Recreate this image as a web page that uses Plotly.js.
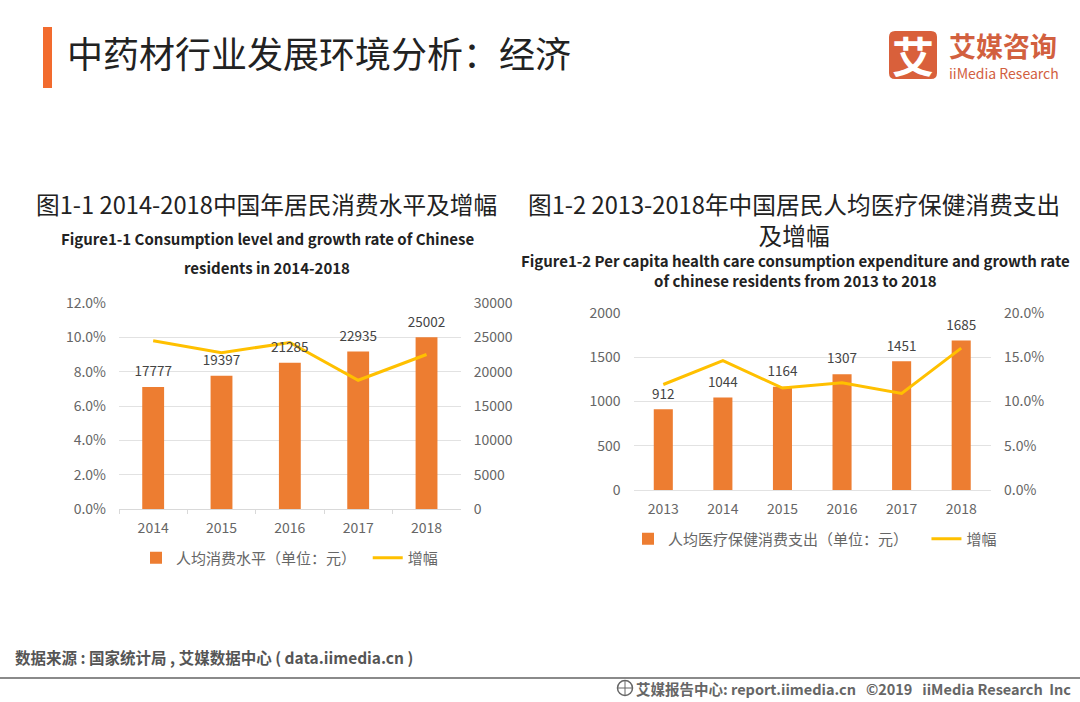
<!DOCTYPE html>
<html>
<head>
<meta charset="utf-8">
<script src="https://cdn.plot.ly/plotly-3.0.1.min.js"></script>
<style>html,body{margin:0;padding:0;background:#fff}#c{width:1080px;height:702px}</style>
</head>
<body>
<div id="c"></div>
<script>
const years1 = ['2014','2015','2016','2017','2018'];
const spend1 = [17777,19397,21285,22935,25002];
const growth1 = [9.8,9.1,9.7,7.5,9.0];
const years2 = ['2013','2014','2015','2016','2017','2018'];
const spend2 = [912,1044,1164,1307,1451,1685];
const growth2 = [11.9,14.6,11.5,12.1,10.9,16.0];
const name1 = '人均消费水平（单位：元）';
const name2 = '人均医疗保健消费支出（单位：元）';
const lineName = '增幅';

const W = 1080, H = 702;
const CJK = '"Noto Sans CJK SC","Noto Sans",sans-serif';
const ORANGE = '#ed7d31', GOLD = '#ffc000', GRID = '#e2e2e2', TXT = '#666666';
const px = x => x / W, py = y => 1 - y / H;

function note(text, x, y, size, color, opts) {
  return Object.assign({text, xref:'paper', yref:'paper', x:px(x), y:py(y), showarrow:false,
    xanchor:'center', yanchor:'middle', font:{family:CJK, size, color}}, opts || {});
}
const tickFont = {family:CJK, size:14, color:TXT};
const labelFont = {family:CJK, size:13.5, color:'#444444'};
const labelMarker = {size:10, opacity:0};

const traces = [
  {type:'bar', x:years1, y:spend1, name:name1 + '\u00a0\u00a0', xaxis:'x', yaxis:'y', marker:{color:ORANGE}, legend:'legend'},
  {type:'scatter', mode:'lines', x:years1, y:growth1, name:lineName, xaxis:'x', yaxis:'y2',
   line:{color:GOLD, width:3}, legend:'legend'},
  {type:'scatter', mode:'markers+text', x:years1, y:spend1, text:spend1.map(String), textposition:'top center',
   textfont:labelFont, marker:labelMarker, xaxis:'x', yaxis:'y5', showlegend:false, cliponaxis:false},
  {type:'bar', x:years2, y:spend2, name:name2 + '\u00a0\u00a0\u00a0\u00a0', xaxis:'x2', yaxis:'y3', marker:{color:ORANGE}, legend:'legend2'},
  {type:'scatter', mode:'lines', x:years2, y:growth2, name:lineName, xaxis:'x2', yaxis:'y4',
   line:{color:GOLD, width:3}, legend:'legend2'},
  {type:'scatter', mode:'markers+text', x:years2, y:spend2, text:spend2.map(String), textposition:'top center',
   textfont:labelFont, marker:labelMarker, xaxis:'x2', yaxis:'y6', showlegend:false, cliponaxis:false}
];

const dom1x = [px(119), px(460.7)], dom1y = [py(509), py(303)];
const dom2x = [px(633.5), px(991)], dom2y = [py(490), py(312.7)];

const layout = {
  width:W, height:H, margin:{l:0,r:0,t:0,b:0}, paper_bgcolor:'#fff', plot_bgcolor:'#fff',
  bargap:0.68, font:{family:CJK},
  xaxis:{domain:dom1x, anchor:'y', type:'category', tickfont:tickFont, showgrid:false, showline:true,
    linecolor:'#d9d9d9', ticks:'outside', tickson:'boundaries', ticklen:4, tickcolor:'#d9d9d9', ticklabelstandoff:6, fixedrange:true},
  yaxis:{domain:dom1y, anchor:'x', side:'right', range:[0,30000], dtick:5000, tickfont:tickFont,
    tickformat:'d', showgrid:true, gridcolor:GRID, zeroline:false, ticks:'', ticklabelstandoff:12},
  yaxis2:{domain:dom1y, anchor:'x', overlaying:'y', side:'left', range:[0,12], dtick:2, tickfont:tickFont,
    tickformat:'.1f', ticksuffix:'%', showgrid:false, zeroline:false, ticks:'', ticklabelstandoff:12},
  yaxis5:{domain:dom1y, anchor:'x', overlaying:'y', range:[0,30000], visible:false},
  xaxis2:{domain:dom2x, anchor:'y3', type:'category', tickfont:tickFont, showgrid:false, showline:true,
    linecolor:'#e2e2e2', ticks:'', ticklabelstandoff:6, fixedrange:true},
  yaxis3:{domain:dom2y, anchor:'x2', side:'left', range:[0,2000], dtick:500, tickfont:tickFont,
    tickformat:'d', showgrid:true, gridcolor:GRID, zeroline:false, ticks:'', ticklabelstandoff:12},
  yaxis4:{domain:dom2y, anchor:'x2', overlaying:'y3', side:'right', range:[0,20], dtick:5, tickfont:tickFont,
    tickformat:'.1f', ticksuffix:'%', showgrid:false, zeroline:false, ticks:'', ticklabelstandoff:12},
  yaxis6:{domain:dom2y, anchor:'x2', overlaying:'y3', range:[0,2000], visible:false},
  legend:{orientation:'h', x:px(136), y:py(558), xanchor:'left', yanchor:'middle',
    font:{family:CJK, size:15, color:TXT}, bgcolor:'rgba(0,0,0,0)', itemclick:false, itemdoubleclick:false},
  legend2:{orientation:'h', x:px(628), y:py(539), xanchor:'left', yanchor:'middle',
    font:{family:CJK, size:15, color:TXT}, bgcolor:'rgba(0,0,0,0)', itemclick:false, itemdoubleclick:false},
  shapes:[
    {type:'rect', xref:'paper', yref:'paper', x0:px(43), x1:px(52), y0:py(27), y1:py(88), fillcolor:'#f26b2e', line:{width:0}},
    {type:'path', xref:'paper', yref:'paper', fillcolor:'#d9603b', line:{width:0},
     path:`M${px(895)},${py(31)} L${px(931)},${py(31)} Q${px(937)},${py(31)} ${px(937)},${py(37)} L${px(937)},${py(73)} Q${px(937)},${py(79)} ${px(931)},${py(79)} L${px(895)},${py(79)} Q${px(889)},${py(79)} ${px(889)},${py(73)} L${px(889)},${py(37)} Q${px(889)},${py(31)} ${px(895)},${py(31)} Z`},
    {type:'line', xref:'paper', yref:'paper', x0:0, x1:1, y0:py(678), y1:py(678), line:{color:'#8a8a8a', width:2}},
    {type:'circle', xref:'paper', yref:'paper', x0:px(617.5), x1:px(632.5), y0:py(680.5), y1:py(695.5), line:{color:'#666', width:1.5}},
    {type:'line', xref:'paper', yref:'paper', x0:px(625), x1:px(625), y0:py(680.5), y1:py(695.5), line:{color:'#666', width:1}},
    {type:'line', xref:'paper', yref:'paper', x0:px(617.5), x1:px(632.5), y0:py(688), y1:py(688), line:{color:'#666', width:1}}
  ],
  annotations:[
    note('中药材行业发展环境分析：经济', 65, 52, 36, '#222222', {xanchor:'left'}),
    note('<b>艾</b>', 913, 55, 42, '#ffffff'),
    note('<b>艾媒咨询</b>', 1002.5, 45.5, 27, '#d2603f'),
    note('iiMedia Research', 1003.5, 73, 14, '#d2603f'),
    note('图1-1 2014-2018中国年居民消费水平及增幅', 266, 204.5, 23.7, '#222222'),
    note('<b>Figure1-1 Consumption level and growth rate of Chinese</b>', 267, 239, 15, '#222222'),
    note('<b>residents in 2014-2018</b>', 267, 267, 15, '#222222'),
    note('图1-2 2013-2018年中国居民人均医疗保健消费支出<br>及增幅', 794, 220, 23.7, '#222222'),
    note('<b>Figure1-2 Per capita health care consumption expenditure and growth rate<br>of chinese residents from 2013 to 2018</b>', 795, 270, 15, '#222222'),
    note('<b>数据来源 : 国家统计局 , 艾媒数据中心 ( data.iimedia.cn )</b>', 13, 657, 15.5, '#555555', {xanchor:'left'}),
    note('<b>艾媒报告中心: report.iimedia.cn\u00a0\u00a0\u00a0©2019\u00a0\u00a0\u00a0iiMedia Research\u00a0\u00a0Inc</b>', 1073, 688, 14.5, '#666666', {xanchor:'right'})
  ]
};
Plotly.newPlot('c', traces, layout, {displayModeBar:false, staticPlot:true});
</script>
</body>
</html>
